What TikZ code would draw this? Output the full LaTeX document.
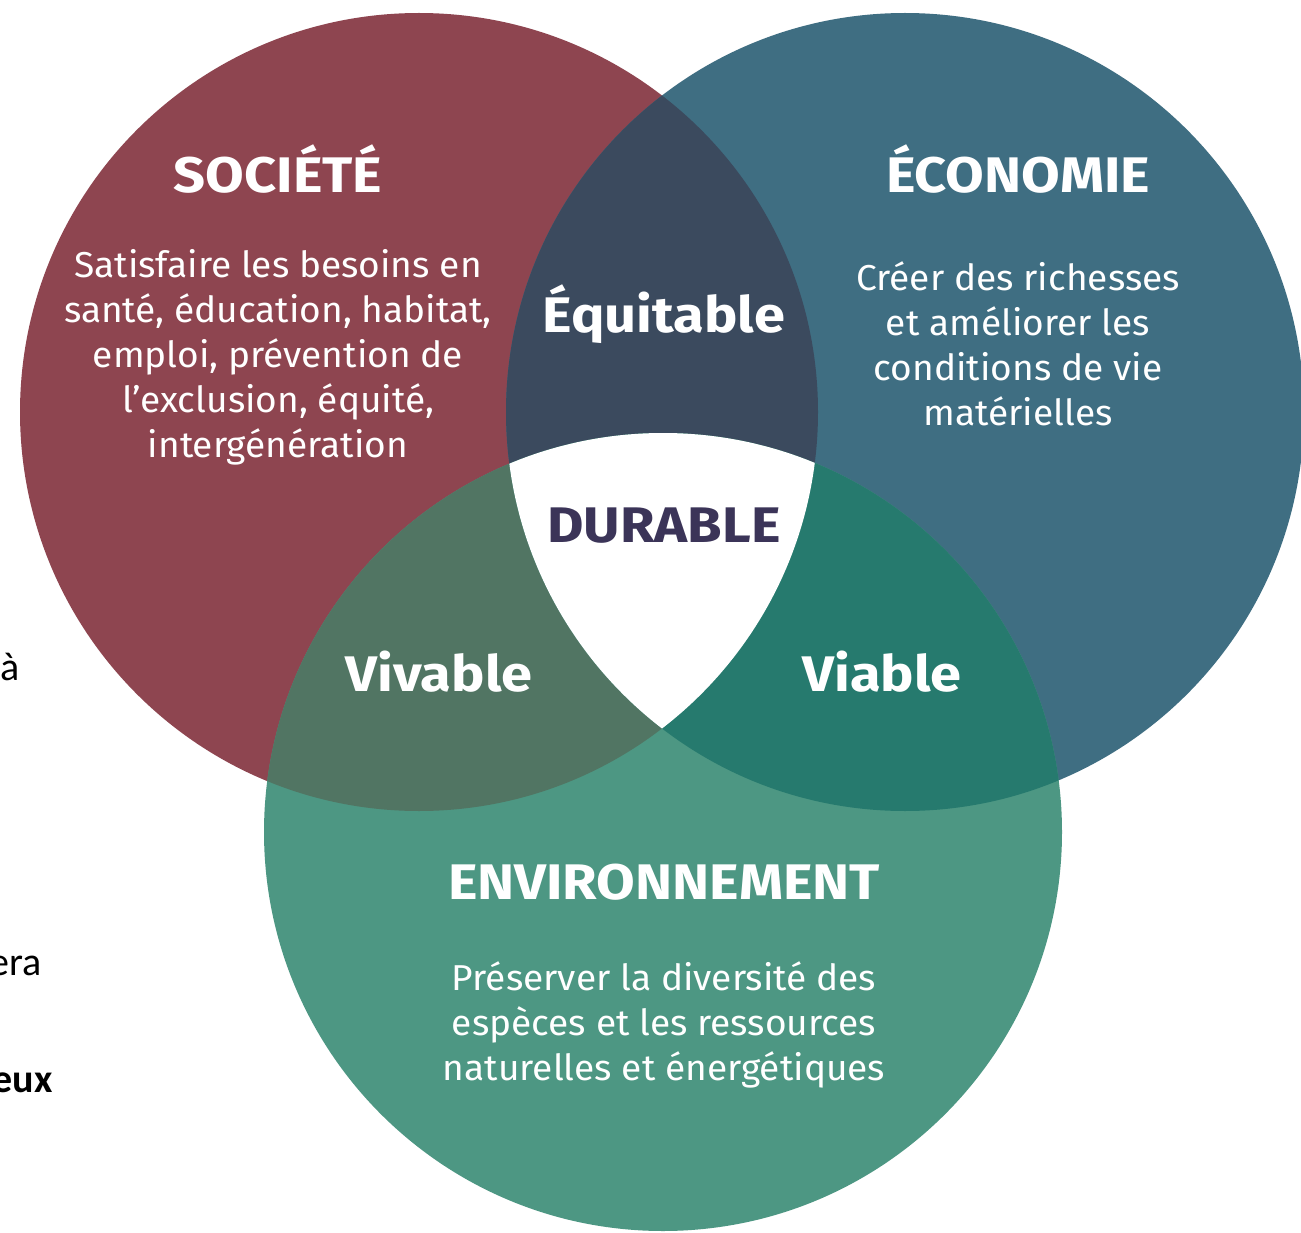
\documentclass[tikz,border=0pt]{standalone}
\usepackage{fontspec}
\setmainfont{Fira Sans}[FakeStretch=1.03]
\newfontfamily\widefont{Fira Sans}[FakeStretch=1.12]
\newfontfamily\calib{Carlito}
\definecolor{soc}{HTML}{8E4550}
\definecolor{eco}{HTML}{3F6E82}
\definecolor{env}{HTML}{4D9783}
\definecolor{soceco}{HTML}{3B4A5E}
\definecolor{socenv}{HTML}{517563}
\definecolor{ecoenv}{HTML}{267A6E}
\definecolor{durable}{HTML}{3B3458}
\tikzset{
  title/.style={text=white, font=\widefont\fontsize{50}{50}\selectfont\bfseries, inner sep=0pt, anchor=base},
  body/.style={text=white, font=\fontsize{36}{45}\selectfont, align=center, inner sep=0pt, anchor=base},
  inter/.style={text=white, font=\widefont\fontsize{50}{50}\selectfont\bfseries, inner sep=0pt, anchor=base},
  stray/.style={text=black, font=\calib\fontsize{40}{40}\selectfont, inner sep=0pt, anchor=base east}
}
\begin{document}
\begin{tikzpicture}[x=1pt,y=-1pt]
\useasboundingbox (0,0) rectangle (1301,1233);
\fill[white] (0,0) rectangle (1301,1233);
\coordinate (cS) at (419,412);
\coordinate (cE) at (905,412);
\coordinate (cV) at (663,832);
\def\R{399pt}
\fill[soc] (cS) circle[radius=\R];
\fill[eco] (cE) circle[radius=\R];
\fill[env] (cV) circle[radius=\R];
\begin{scope}
  \clip (cS) circle[radius=\R];
  \fill[soceco] (cE) circle[radius=\R];
  \fill[socenv] (cV) circle[radius=\R];
\end{scope}
\begin{scope}
  \clip (cE) circle[radius=\R];
  \fill[ecoenv] (cV) circle[radius=\R];
\end{scope}
\begin{scope}
  \clip (cS) circle[radius=\R];
  \clip (cE) circle[radius=\R];
  \fill[white] (cV) circle[radius=\R];
\end{scope}
% texts
\node[title] (tS) at (278,193) {SOCIÉTÉ};
\node[body] (bS) at (278,457) {Satisfaire les besoins en\\santé, éducation, habitat,\\emploi, prévention de\\l’exclusion, équité,\\intergénération};
\node[title] (tE) at (1018,193) {ÉCONOMIE};
\node[body] (bE) at (1018,425) {Créer des richesses\\et améliorer les\\conditions de vie\\matérielles};
\node[title] (tV) at (664,899) {ENVIRONNEMENT};
\node[body] (bV) at (664,1080) {Préserver la diversité des\\espèces et les ressources\\naturelles et énergétiques};
\node[inter] (eq) at (664,333) {Équitable};
\node[inter, text=durable] (du) at (664,542) {DURABLE};
\node[inter] (viv) at (439,691) {Vivable};
\node[inter] (via) at (882,691) {Viable};
\node[stray] (s1) at (20,680) {à};
\node[stray] (s2) at (42,975) {era};
\node[stray, font=\calib\bfseries\fontsize{40}{40}\selectfont] (s3) at (53,1092) {eux};
\end{tikzpicture}
\end{document}
